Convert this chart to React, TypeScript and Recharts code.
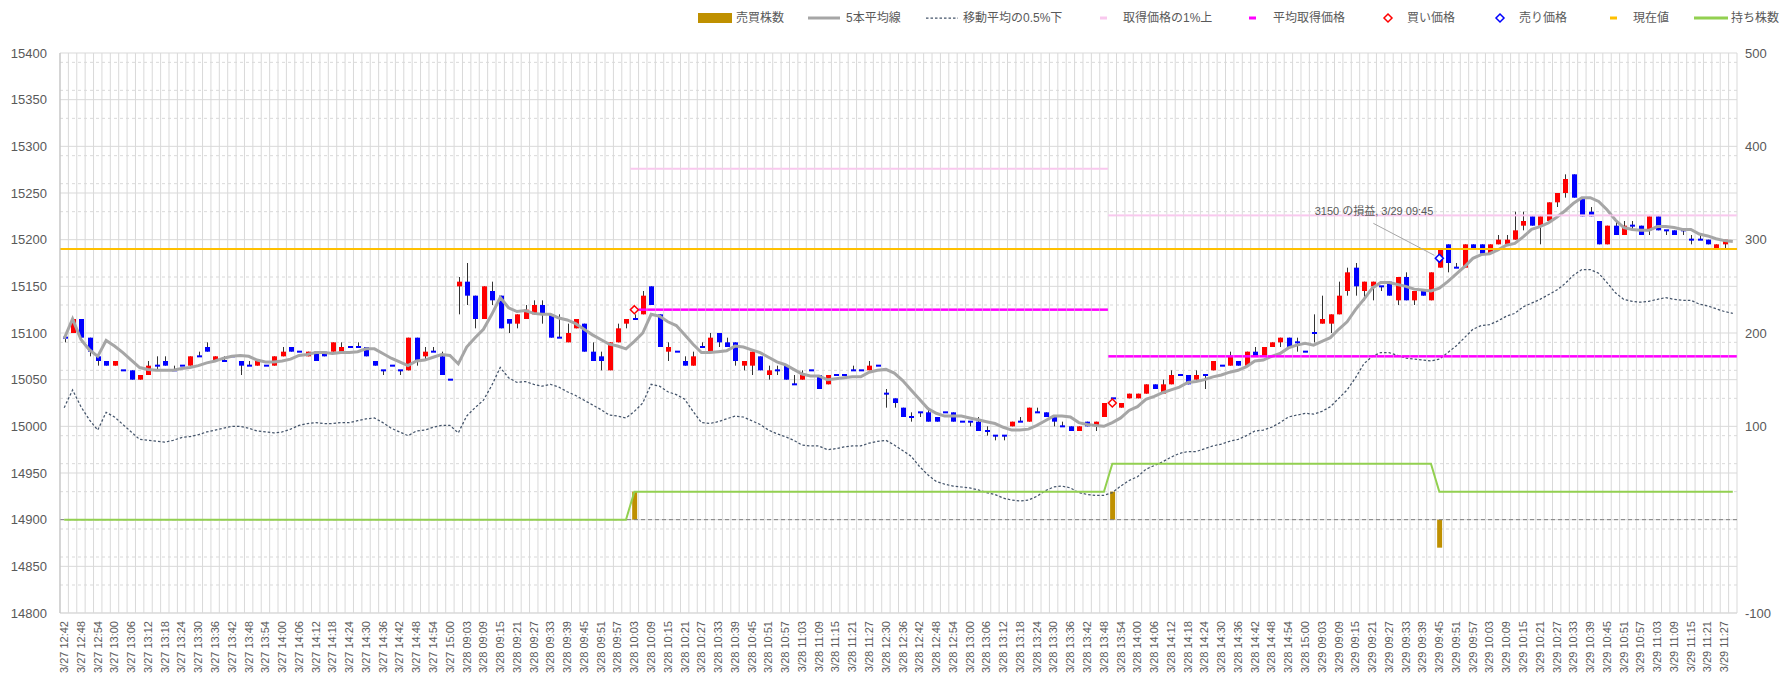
import React from 'react';
import {
  ComposedChart,
  Bar,
  Line,
  XAxis,
  YAxis,
  CartesianGrid,
  ReferenceLine,
} from 'recharts';

const FONT = "'Liberation Sans', 'Noto Sans CJK JP', Arial, sans-serif";
const TEXT = '#595959';
const GRID = '#d9d9d9';
const UP = '#ff0000';
const DOWN = '#0000ff';
const WICK = '#333333';

// 3-minute bars, one list per trading session
const T_0327 =
  '12:42 12:45 12:48 12:51 12:54 12:57 13:00 13:03 13:06 13:09 13:12 13:15 13:18 13:21 13:24 13:27 13:30 13:33 13:36 13:39 13:42 13:45 13:48 13:51 13:54 13:57 14:00 14:03 14:06 14:09 14:12 14:15 14:18 14:21 14:24 14:27 14:30 14:33 14:36 14:39 14:42 14:45 14:48 14:51 14:54 14:57 15:00'.split(' ');
const T_AM =
  '09:00 09:03 09:06 09:09 09:12 09:15 09:18 09:21 09:24 09:27 09:30 09:33 09:36 09:39 09:42 09:45 09:48 09:51 09:54 09:57 10:00 10:03 10:06 10:09 10:12 10:15 10:18 10:21 10:24 10:27 10:30 10:33 10:36 10:39 10:42 10:45 10:48 10:51 10:54 10:57 11:00 11:03 11:06 11:09 11:12 11:15 11:18 11:21 11:24 11:27 11:30'.split(' ');
const T_PM =
  '12:30 12:33 12:36 12:39 12:42 12:45 12:48 12:51 12:54 12:57 13:00 13:03 13:06 13:09 13:12 13:15 13:18 13:21 13:24 13:27 13:30 13:33 13:36 13:39 13:42 13:45 13:48 13:51 13:54 13:57 14:00 14:03 14:06 14:09 14:12 14:15 14:18 14:21 14:24 14:27 14:30 14:33 14:36 14:39 14:42 14:45 14:48 14:51 14:54 14:57 15:00'.split(' ');

const SESSIONS: [string, string[]][] = [
  ['3/27', T_0327],
  ['3/28', T_AM],
  ['3/28', T_PM],
  ['3/29', T_AM],
];

const OPEN = [
  15095, 15100, 15115, 15095, 15075, 15070, 15065, 15060, 15060, 15050,
  15055, 15065, 15070, 15060, 15065, 15065, 15075, 15085, 15070, 15070,
  15075, 15070, 15065, 15065, 15065, 15065, 15075, 15085, 15080, 15075,
  15080, 15080, 15080, 15080, 15085, 15085, 15085, 15070, 15060, 15065,
  15060, 15060, 15095, 15075, 15080, 15075, 15050, 15150, 15155, 15140,
  15115, 15145, 15140, 15115, 15110, 15115, 15120, 15130, 15120, 15095,
  15090, 15105, 15110, 15080, 15075, 15060, 15090, 15110, 15115, 15120,
  15150, 15120, 15080, 15080, 15070, 15065, 15085, 15080, 15100, 15090,
  15090, 15065, 15065, 15075, 15055, 15060, 15065, 15045, 15050, 15060,
  15055, 15045, 15055, 15055, 15060, 15060, 15060, 15065, 15035, 15030,
  15020, 15010, 15015, 15015, 15010, 15015, 15015, 15005, 15005, 15005,
  14995, 14990, 14990, 15000, 15005, 15005, 15015, 15015, 15010, 15000,
  15000, 14995, 15005, 15000, 15010, 15030, 15020, 15030, 15030, 15035,
  15045, 15035, 15045, 15055, 15055, 15050, 15055, 15060, 15065, 15065,
  15070, 15065, 15080, 15075, 15085, 15090, 15095, 15090, 15080, 15100,
  15110, 15110, 15120, 15145, 15170, 15145, 15150, 15150, 15155, 15135,
  15160, 15135, 15145, 15135, 15170, 15195, 15170, 15170, 15195, 15195,
  15185, 15195, 15195, 15200, 15215, 15225, 15215, 15220, 15240, 15250,
  15270, 15245, 15230, 15220, 15195, 15215, 15205, 15215, 15215, 15210,
  15225, 15210, 15210, 15210, 15200, 15200, 15200, 15190, 15195, 15190,
];

const HIGH = [
  15100, 15115, 15115, 15095, 15075, 15070, 15070, 15060, 15060, 15055,
  15070, 15075, 15075, 15065, 15065, 15075, 15080, 15090, 15075, 15075,
  15075, 15070, 15070, 15070, 15065, 15075, 15085, 15085, 15080, 15080,
  15080, 15080, 15090, 15090, 15085, 15090, 15085, 15070, 15060, 15065,
  15060, 15095, 15095, 15085, 15085, 15080, 15050, 15160, 15175, 15140,
  15150, 15155, 15140, 15115, 15120, 15130, 15135, 15135, 15120, 15120,
  15110, 15115, 15110, 15090, 15080, 15090, 15110, 15115, 15120, 15145,
  15150, 15120, 15090, 15080, 15075, 15080, 15090, 15100, 15100, 15095,
  15090, 15070, 15080, 15075, 15065, 15065, 15065, 15055, 15060, 15060,
  15055, 15055, 15055, 15055, 15065, 15060, 15070, 15065, 15040, 15030,
  15020, 15015, 15015, 15020, 15010, 15015, 15015, 15005, 15005, 15010,
  15000, 14990, 14990, 15005, 15010, 15020, 15020, 15015, 15010, 15005,
  15000, 15000, 15005, 15005, 15025, 15030, 15025, 15035, 15035, 15045,
  15045, 15050, 15060, 15055, 15055, 15060, 15055, 15070, 15065, 15080,
  15070, 15080, 15085, 15085, 15090, 15095, 15095, 15095, 15080, 15120,
  15140, 15120, 15155, 15170, 15175, 15155, 15155, 15150, 15155, 15160,
  15165, 15145, 15145, 15165, 15190, 15195, 15175, 15195, 15195, 15195,
  15195, 15205, 15205, 15230, 15230, 15225, 15225, 15240, 15250, 15270,
  15270, 15245, 15235, 15220, 15215, 15220, 15220, 15220, 15215, 15225,
  15225, 15210, 15210, 15210, 15205, 15205, 15200, 15195, 15200, 15190,
];

const LOW = [
  15090, 15100, 15090, 15075, 15065, 15065, 15065, 15060, 15050, 15050,
  15055, 15060, 15065, 15060, 15065, 15065, 15075, 15080, 15070, 15070,
  15075, 15055, 15065, 15065, 15065, 15065, 15075, 15080, 15080, 15075,
  15070, 15075, 15080, 15080, 15085, 15085, 15075, 15065, 15055, 15065,
  15055, 15060, 15065, 15070, 15080, 15055, 15050, 15120, 15130, 15105,
  15115, 15130, 15105, 15100, 15105, 15115, 15120, 15110, 15095, 15095,
  15090, 15105, 15080, 15070, 15060, 15060, 15090, 15105, 15115, 15120,
  15130, 15085, 15070, 15080, 15065, 15065, 15085, 15080, 15085, 15085,
  15065, 15060, 15055, 15060, 15050, 15055, 15050, 15045, 15050, 15060,
  15040, 15045, 15055, 15055, 15060, 15060, 15060, 15065, 15020, 15020,
  15010, 15005, 15010, 15005, 15005, 15015, 15005, 15005, 15000, 14995,
  14990, 14985, 14985, 15000, 15005, 15005, 15015, 15010, 15000, 15000,
  14995, 14995, 15000, 14995, 15010, 15030, 15020, 15030, 15030, 15035,
  15040, 15035, 15045, 15055, 15045, 15050, 15040, 15060, 15065, 15065,
  15065, 15065, 15075, 15075, 15085, 15085, 15085, 15080, 15080, 15090,
  15110, 15100, 15120, 15140, 15140, 15135, 15135, 15145, 15140, 15130,
  15135, 15130, 15140, 15135, 15170, 15165, 15170, 15170, 15190, 15185,
  15185, 15195, 15195, 15200, 15210, 15215, 15195, 15220, 15235, 15245,
  15245, 15225, 15225, 15195, 15195, 15205, 15205, 15210, 15205, 15205,
  15210, 15205, 15205, 15205, 15195, 15200, 15195, 15190, 15190, 15190,
];

const CLOSE = [
  15095, 15115, 15095, 15080, 15070, 15065, 15070, 15060, 15050, 15055,
  15065, 15065, 15065, 15060, 15065, 15075, 15075, 15080, 15075, 15070,
  15075, 15065, 15065, 15070, 15065, 15075, 15080, 15080, 15080, 15080,
  15070, 15075, 15090, 15085, 15085, 15085, 15075, 15065, 15060, 15065,
  15060, 15095, 15070, 15080, 15080, 15055, 15050, 15155, 15140, 15115,
  15150, 15135, 15105, 15110, 15120, 15125, 15130, 15120, 15095, 15095,
  15100, 15115, 15080, 15070, 15070, 15090, 15105, 15115, 15115, 15140,
  15130, 15085, 15085, 15080, 15065, 15075, 15085, 15095, 15090, 15085,
  15070, 15070, 15080, 15060, 15060, 15060, 15050, 15045, 15055, 15060,
  15040, 15055, 15055, 15055, 15060, 15060, 15065, 15065, 15035, 15025,
  15010, 15010, 15015, 15005, 15005, 15015, 15005, 15005, 15005, 14995,
  14995, 14990, 14990, 15005, 15005, 15020, 15015, 15010, 15005, 15000,
  14995, 15000, 15000, 15005, 15025, 15030, 15025, 15035, 15035, 15045,
  15040, 15045, 15055, 15055, 15045, 15055, 15055, 15070, 15065, 15075,
  15065, 15080, 15075, 15085, 15090, 15095, 15085, 15090, 15080, 15100,
  15115, 15120, 15140, 15165, 15150, 15155, 15155, 15150, 15140, 15160,
  15135, 15145, 15140, 15165, 15190, 15175, 15170, 15195, 15190, 15185,
  15195, 15200, 15200, 15210, 15220, 15215, 15225, 15240, 15250, 15265,
  15245, 15225, 15225, 15195, 15215, 15205, 15215, 15215, 15205, 15225,
  15210, 15210, 15205, 15210, 15200, 15200, 15195, 15195, 15200, 15190,
];

// 5本平均線
const MA5 = [
  15094, 15115, 15093, 15082, 15075, 15092, 15086, 15079, 15071, 15063,
  15061, 15060, 15060, 15060, 15062, 15063, 15065, 15068, 15070, 15073,
  15075, 15076, 15075, 15071, 15069, 15069, 15070, 15072, 15076, 15077,
  15079, 15079, 15078, 15079, 15079, 15080, 15083, 15083, 15078, 15073,
  15069, 15065, 15070, 15071, 15074, 15077, 15076, 15067, 15085, 15095,
  15104, 15120, 15138, 15127, 15123, 15124, 15121, 15120, 15120, 15116,
  15114, 15110, 15104, 15098, 15093, 15088, 15086, 15083, 15091, 15100,
  15120, 15118, 15112, 15108, 15098, 15088, 15079, 15079, 15080, 15081,
  15086, 15085, 15082, 15079, 15074, 15069, 15066, 15061, 15056, 15054,
  15054, 15050, 15051, 15052, 15053, 15053, 15058, 15060, 15061, 15057,
  15049, 15039, 15029, 15019, 15014, 15011, 15011, 15011, 15009, 15007,
  15005, 15003, 14999, 14996, 14996, 14997, 15001, 15006, 15011, 15011,
  15010, 15004, 15002, 15001, 15000, 15004, 15009, 15017, 15021, 15029,
  15032, 15036, 15039, 15042, 15047, 15048, 15050, 15053, 15055, 15058,
  15060, 15064, 15070, 15071, 15075, 15078, 15084, 15087, 15089, 15087,
  15091, 15095, 15104, 15112, 15125, 15136, 15148, 15154, 15154, 15152,
  15150, 15147, 15146, 15145, 15148, 15155, 15163, 15171, 15180, 15184,
  15185, 15189, 15194, 15196, 15203, 15211, 15214, 15218, 15224, 15231,
  15239, 15245, 15245, 15241, 15232, 15221, 15213, 15211, 15210, 15210,
  15214, 15214, 15213, 15211, 15211, 15206, 15204, 15201, 15199, 15198,
];

// 移動平均の0.5%下
const MA_LOWER = [
  15020, 15039, 15021, 15007, 14996, 15015, 15010, 15002, 14994, 14986,
  14985, 14984, 14983, 14985, 14988, 14989, 14991, 14994, 14996, 14998,
  15000, 15000, 14998, 14995, 14994, 14993, 14994, 14997, 15001, 15003,
  15004, 15003, 15003, 15004, 15004, 15006, 15008, 15009, 15004, 14998,
  14994, 14990, 14995, 14996, 14999, 15001, 15001, 14993, 15011, 15020,
  15028, 15044, 15063, 15052, 15047, 15048, 15045, 15043, 15045, 15042,
  15037, 15033, 15028, 15023, 15018, 15012, 15011, 15009, 15016, 15025,
  15045, 15043, 15037, 15034, 15029, 15016, 15004, 15003, 15005, 15008,
  15011, 15010, 15006, 15002, 14996, 14992, 14989, 14985, 14980, 14979,
  14979, 14975, 14976, 14978, 14979, 14979, 14982, 14984, 14985, 14980,
  14974, 14968, 14957, 14948, 14941, 14938, 14936, 14935, 14934, 14932,
  14929, 14927, 14923, 14921, 14920, 14921, 14925, 14931, 14935, 14936,
  14934, 14929, 14927, 14926, 14926, 14929, 14936, 14942, 14946, 14954,
  14958, 14962, 14967, 14971, 14973, 14973, 14976, 14979, 14981, 14984,
  14986, 14990, 14995, 14996, 14999, 15004, 15010, 15012, 15014, 15013,
  15016, 15021, 15030, 15039, 15052, 15067, 15075, 15079, 15079, 15076,
  15073, 15072, 15071, 15070, 15072, 15079, 15086, 15095, 15104, 15108,
  15109, 15113, 15118, 15121, 15128, 15132, 15136, 15141, 15146, 15153,
  15162, 15168, 15168, 15164, 15154, 15143, 15136, 15134, 15133, 15134,
  15136, 15138, 15136, 15135, 15135, 15131, 15129, 15126, 15123, 15121,
];

// trades: bar index, shares (+buy / -sell), price
const TRADES = [
  { index: 68, qty: 30, price: 15125 },
  { index: 125, qty: 30, price: 15025 },
  { index: 164, qty: -30, price: 15180 },
];
// [from bar index, value]
const HOLDING_STEPS: [number, number][] = [[0, 0], [68, 30], [125, 60], [164, 30]];
const AVG_PRICE_STEPS: [number, number][] = [[68, 15125], [125, 15075]];
const UPPER_STEPS: [number, number][] = [[68, 15276], [125, 15226]];
const CURRENT_PRICE = 15190;
const SELL_NOTE = '3150 の損益, 3/29 09:45';

const LEFT_TICKS = [14800, 14850, 14900, 14950, 15000, 15050, 15100, 15150, 15200, 15250, 15300, 15350, 15400];
const MINOR_TICKS = [
  14810, 14820, 14830, 14840, 14860, 14870, 14880, 14890, 14910, 14920, 14930, 14940,
  14960, 14970, 14980, 14990, 15010, 15020, 15030, 15040, 15060, 15070, 15080, 15090,
  15110, 15120, 15130, 15140, 15160, 15170, 15180, 15190, 15210, 15220, 15230, 15240,
  15260, 15270, 15280, 15290, 15310, 15320, 15330, 15340, 15360, 15370, 15380, 15390,
];
const RIGHT_TICKS = [-100, 100, 200, 300, 400, 500];

const stepValue = (steps: [number, number][], i: number) => {
  let v: number | null = null;
  for (const [from, value] of steps) if (i >= from) v = value;
  return v;
};

const LABELS = SESSIONS.flatMap(([day, times]) => times.map((t) => `${day} ${t}`));

const rows = LABELS.map((label, i) => {
  const trade = TRADES.find((t) => t.index === i);
  return {
    label,
    open: OPEN[i],
    high: HIGH[i],
    low: LOW[i],
    close: CLOSE[i],
    ma: MA5[i],
    lower: MA_LOWER[i],
    hold: stepValue(HOLDING_STEPS, i),
    avg: stepValue(AVG_PRICE_STEPS, i),
    upper: stepValue(UPPER_STEPS, i),
    qty: trade ? trade.qty : null,
    buy: trade && trade.qty > 0 ? trade.price : null,
    sell: trade && trade.qty < 0 ? trade.price : null,
  };
});
const N = rows.length;

const Candle = (props: any) => {
  const { x, y, width, height, payload } = props;
  if (x == null || y == null || !payload) return <g />;
  const { open, close, high, low } = payload;
  const top = Math.min(y, y + height);
  const span = Math.abs(height);
  const perUnit = high > low ? span / (high - low) : 0;
  const yAt = (v: number) => top + (high - v) * perUnit;
  const cx = Math.round(x + width / 2) + 0.5;
  const bodyTop = yAt(Math.max(open, close));
  const bodyBot = yAt(Math.min(open, close));
  const flat = bodyBot - bodyTop < 2;
  return (
    <g>
      {span > 0 && <line x1={cx} x2={cx} y1={top} y2={top + span} stroke={WICK} strokeWidth={1} />}
      <rect
        x={cx - 2.5}
        width={5}
        y={flat ? (bodyTop + bodyBot) / 2 - 1 : bodyTop}
        height={flat ? 2 : bodyBot - bodyTop}
        fill={close > open ? UP : DOWN}
      />
    </g>
  );
};

// short horizontal dash marker, one per category
const dashDot = (key: string, color: string, w: number) => (props: any) => {
  const { cx, cy, index, payload } = props;
  if (payload?.[key] == null || cy == null) return <g key={`${key}-${index}`} />;
  return <line key={`${key}-${index}`} x1={cx - 4} x2={cx + 4} y1={cy} y2={cy} stroke={color} strokeWidth={w} />;
};

const diamondPath = (cx: number, cy: number, r: number) =>
  `M${cx},${cy - r} L${cx + r},${cy} L${cx},${cy + r} L${cx - r},${cy} Z`;

const buyDot = (props: any) => {
  const { cx, cy, index, payload } = props;
  if (payload?.buy == null || cy == null) return <g key={`b-${index}`} />;
  return <path key={`b-${index}`} d={diamondPath(cx, cy, 4)} fill="#fff" stroke={UP} strokeWidth={1.5} />;
};

const sellDot = (props: any) => {
  const { cx, cy, index, payload } = props;
  if (payload?.sell == null || cy == null) return <g key={`s-${index}`} />;
  return (
    <g key={`s-${index}`}>
      <line x1={cx - 66} y1={cy - 35} x2={cx - 5} y2={cy - 3} stroke="#a6a6a6" strokeWidth={1} />
      <text x={cx - 6} y={cy - 43} textAnchor="end" fontSize={11} fill={TEXT} fontFamily={FONT}>
        {SELL_NOTE}
      </text>
      <path d={diamondPath(cx, cy, 4)} fill="#fff" stroke={DOWN} strokeWidth={1.5} />
    </g>
  );
};

const XTick = (props: any) => {
  const { x, y, payload } = props;
  return (
    <text
      x={x}
      y={y}
      transform={`rotate(-90 ${x} ${y})`}
      textAnchor="end"
      dy="0.35em"
      fontSize={11}
      fill={TEXT}
      fontFamily={FONT}
    >
      {payload.value}
    </text>
  );
};

const categoryEdges = ({ offset }: any) => {
  const left = offset?.left ?? 60;
  const w = offset?.width ?? 1677;
  return Array.from({ length: N + 1 }, (_, i) => left + (i * w) / N);
};

const LEGEND = [
  { x: 698, w: 34, kind: 'rect', color: '#bf9000', label: '売買株数', tx: 736 },
  { x: 808, w: 32, kind: 'line', color: '#a6a6a6', label: '5本平均線', tx: 846 },
  { x: 926, w: 32, kind: 'dotted', color: '#44546a', label: '移動平均の0.5%下', tx: 963 },
  { x: 1100, w: 7, kind: 'dash', color: '#f9c8ee', label: '取得価格の1%上', tx: 1123 },
  { x: 1249, w: 7, kind: 'dash', color: '#ff00ff', label: '平均取得価格', tx: 1273 },
  { x: 1384, w: 8, kind: 'diamond', color: UP, label: '買い価格', tx: 1407 },
  { x: 1496, w: 8, kind: 'diamond', color: DOWN, label: '売り価格', tx: 1519 },
  { x: 1610, w: 7, kind: 'dash', color: '#ffc000', label: '現在値', tx: 1633 },
  { x: 1694, w: 34, kind: 'line', color: '#92d050', label: '持ち株数', tx: 1731 },
];

function LegendBar() {
  const cy = 18;
  return (
    <svg width={1780} height={36} style={{ position: 'absolute', left: 0, top: 0, pointerEvents: 'none' }}>
      {LEGEND.map((item) => (
        <g key={item.label}>
          {item.kind === 'rect' && <rect x={item.x} y={cy - 5} width={item.w} height={10} fill={item.color} />}
          {item.kind === 'line' && (
            <line x1={item.x} x2={item.x + item.w} y1={cy} y2={cy} stroke={item.color} strokeWidth={3} />
          )}
          {item.kind === 'dotted' && (
            <line x1={item.x} x2={item.x + item.w} y1={cy} y2={cy} stroke={item.color} strokeWidth={1.25} strokeDasharray="2.5 2" />
          )}
          {item.kind === 'dash' && (
            <line x1={item.x} x2={item.x + item.w} y1={cy} y2={cy} stroke={item.color} strokeWidth={3} />
          )}
          {item.kind === 'diamond' && (
            <path d={diamondPath(item.x + item.w / 2, cy, 4)} fill="#fff" stroke={item.color} strokeWidth={1.5} />
          )}
          <text x={item.tx} y={cy} dy="0.35em" fontSize={12} fill={TEXT} fontFamily={FONT}>
            {item.label}
          </text>
        </g>
      ))}
    </svg>
  );
}

export default function App() {
  return (
    <div style={{ position: 'absolute', left: 0, top: 0, width: 1780, height: 680, background: '#fff', fontFamily: FONT }}>
      <ComposedChart
        width={1780}
        height={680}
        data={rows}
        margin={{ top: 53, right: 0, bottom: 0, left: 0 }}
        barSize={5}
        barGap={-5}
      >
        <CartesianGrid yAxisId="left" stroke={GRID} verticalCoordinatesGenerator={categoryEdges} />
        <CartesianGrid
          yAxisId="left"
          vertical={false}
          horizontalValues={MINOR_TICKS}
          stroke={GRID}
          strokeDasharray="3 3"
        />
        <XAxis
          dataKey="label"
          interval={1}
          height={67}
          tick={XTick}
          tickLine={false}
          axisLine={{ stroke: GRID }}
        />
        <YAxis
          yAxisId="left"
          domain={[14800, 15400]}
          ticks={LEFT_TICKS}
          width={60}
          tickLine={false}
          tickMargin={7}
          axisLine={{ stroke: '#bfbfbf' }}
          tick={{ fontSize: 13, fill: TEXT, fontFamily: FONT }}
        />
        <YAxis
          yAxisId="right"
          orientation="right"
          domain={[-100, 500]}
          ticks={RIGHT_TICKS}
          width={43}
          tickLine={false}
          axisLine={false}
          tick={{ fontSize: 13, fill: TEXT, fontFamily: FONT }}
        />
        <ReferenceLine yAxisId="right" y={0} stroke="#7f7f7f" strokeDasharray="4 3" />
        <Bar yAxisId="right" dataKey="qty" fill="#bf9000" isAnimationActive={false} />
        <Bar yAxisId="left" dataKey={(d: any) => [d.low, d.high]} shape={Candle} isAnimationActive={false} />
        <Line
          yAxisId="left"
          dataKey="lower"
          stroke="#44546a"
          strokeWidth={1.25}
          strokeDasharray="2.5 2"
          dot={false}
          activeDot={false}
          isAnimationActive={false}
        />
        <Line yAxisId="left" dataKey="ma" stroke="#a6a6a6" strokeWidth={3} dot={false} activeDot={false} isAnimationActive={false} />
        <Line yAxisId="right" dataKey="hold" stroke="#92d050" strokeWidth={2} dot={false} activeDot={false} isAnimationActive={false} />
        <Line yAxisId="left" dataKey="upper" stroke="none" dot={dashDot('upper', '#f9c8ee', 2)} activeDot={false} isAnimationActive={false} />
        <Line yAxisId="left" dataKey="avg" stroke="none" dot={dashDot('avg', '#ff00ff', 2.5)} activeDot={false} isAnimationActive={false} />
        <ReferenceLine yAxisId="left" y={CURRENT_PRICE} stroke="#ffc000" strokeWidth={2} />
        <Line yAxisId="left" dataKey="buy" stroke="none" dot={buyDot} activeDot={false} isAnimationActive={false} />
        <Line yAxisId="left" dataKey="sell" stroke="none" dot={sellDot} activeDot={false} isAnimationActive={false} />
      </ComposedChart>
      <LegendBar />
    </div>
  );
}
